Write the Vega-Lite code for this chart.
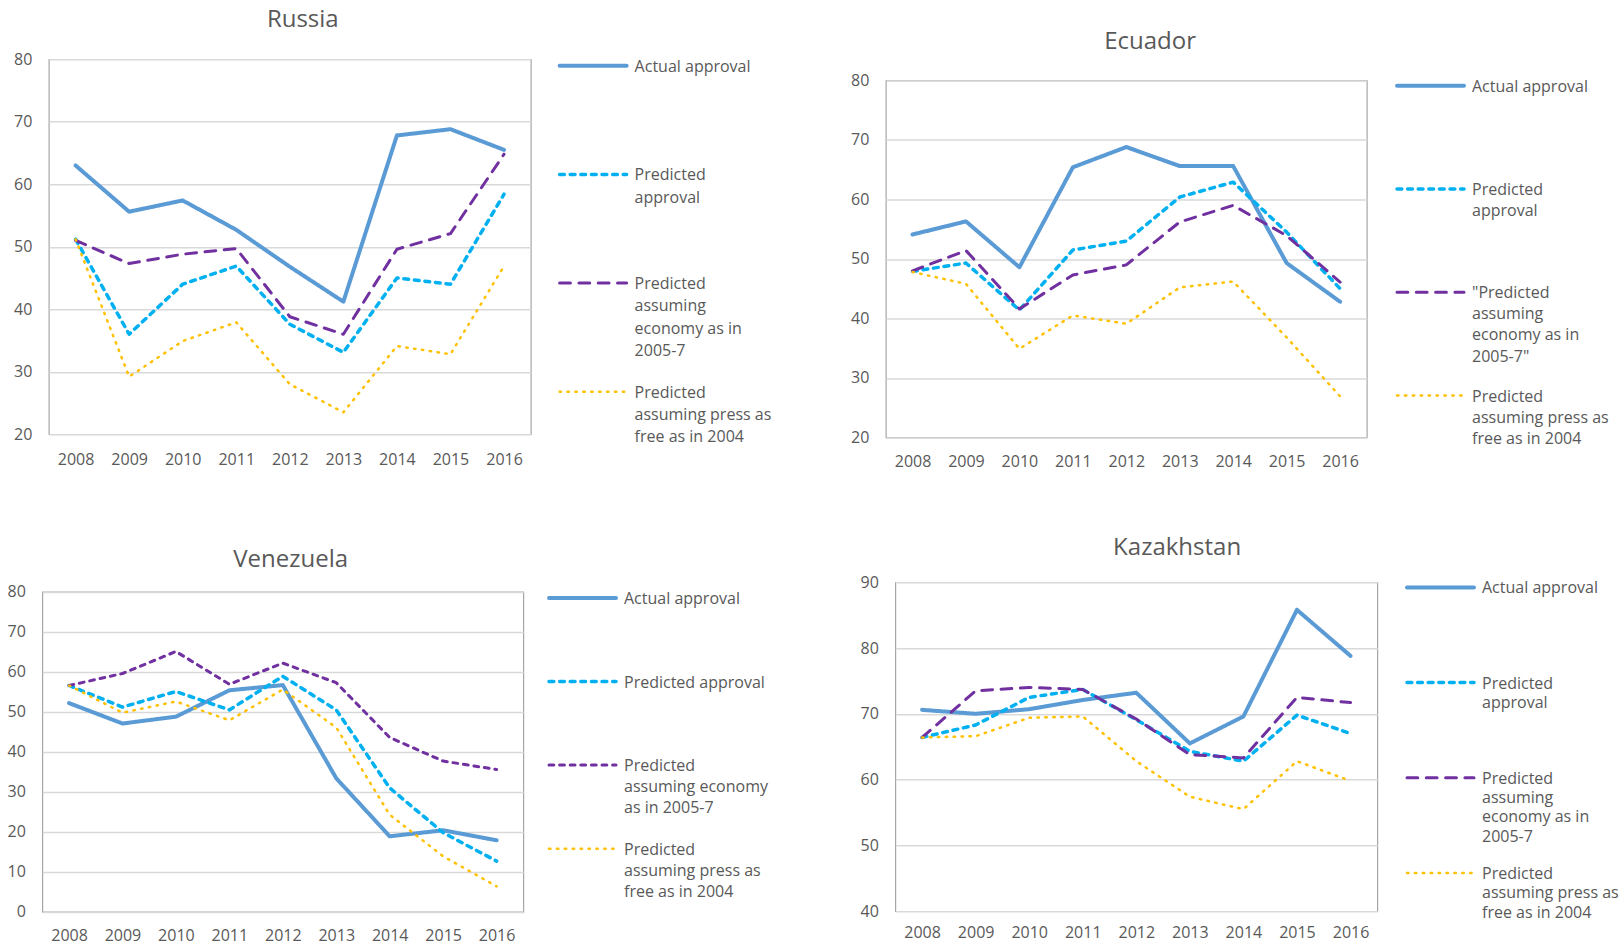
{
  "$schema": "https://vega.github.io/schema/vega-lite/v6.json",
  "padding": 0,
  "spacing": 0,
  "center": true,
  "resolve": {
    "scale": {"x": "independent", "y": "independent", "color": "independent", "strokeDash": "independent", "strokeWidth": "independent"},
    "legend": {"color": "independent", "strokeDash": "independent", "strokeWidth": "independent"}
  },
  "datasets": {
    "russia": [
      {"year": 2008, "series": "Actual approval", "value": 63.0},
      {"year": 2009, "series": "Actual approval", "value": 55.6},
      {"year": 2010, "series": "Actual approval", "value": 57.4},
      {"year": 2011, "series": "Actual approval", "value": 52.7},
      {"year": 2012, "series": "Actual approval", "value": 46.8},
      {"year": 2013, "series": "Actual approval", "value": 41.2},
      {"year": 2014, "series": "Actual approval", "value": 67.8},
      {"year": 2015, "series": "Actual approval", "value": 68.8},
      {"year": 2016, "series": "Actual approval", "value": 65.5},
      {"year": 2008, "series": "Predicted approval", "value": 51.2},
      {"year": 2009, "series": "Predicted approval", "value": 36.0},
      {"year": 2010, "series": "Predicted approval", "value": 44.0},
      {"year": 2011, "series": "Predicted approval", "value": 46.9},
      {"year": 2012, "series": "Predicted approval", "value": 37.6},
      {"year": 2013, "series": "Predicted approval", "value": 33.1},
      {"year": 2014, "series": "Predicted approval", "value": 45.0},
      {"year": 2015, "series": "Predicted approval", "value": 44.0},
      {"year": 2016, "series": "Predicted approval", "value": 58.4},
      {"year": 2008, "series": "Predicted assuming economy as in 2005-7", "value": 51.0},
      {"year": 2009, "series": "Predicted assuming economy as in 2005-7", "value": 47.3},
      {"year": 2010, "series": "Predicted assuming economy as in 2005-7", "value": 48.8},
      {"year": 2011, "series": "Predicted assuming economy as in 2005-7", "value": 49.7},
      {"year": 2012, "series": "Predicted assuming economy as in 2005-7", "value": 38.8},
      {"year": 2013, "series": "Predicted assuming economy as in 2005-7", "value": 36.0},
      {"year": 2014, "series": "Predicted assuming economy as in 2005-7", "value": 49.6},
      {"year": 2015, "series": "Predicted assuming economy as in 2005-7", "value": 52.1},
      {"year": 2016, "series": "Predicted assuming economy as in 2005-7", "value": 64.8},
      {"year": 2008, "series": "Predicted assuming press as free as in 2004", "value": 51.2},
      {"year": 2009, "series": "Predicted assuming press as free as in 2004", "value": 29.2},
      {"year": 2010, "series": "Predicted assuming press as free as in 2004", "value": 34.9},
      {"year": 2011, "series": "Predicted assuming press as free as in 2004", "value": 37.9},
      {"year": 2012, "series": "Predicted assuming press as free as in 2004", "value": 28.0},
      {"year": 2013, "series": "Predicted assuming press as free as in 2004", "value": 23.5},
      {"year": 2014, "series": "Predicted assuming press as free as in 2004", "value": 34.1},
      {"year": 2015, "series": "Predicted assuming press as free as in 2004", "value": 32.8},
      {"year": 2016, "series": "Predicted assuming press as free as in 2004", "value": 46.9}
    ],
    "ecuador": [
      {"year": 2008, "series": "Actual approval", "value": 54.1},
      {"year": 2009, "series": "Actual approval", "value": 56.3},
      {"year": 2010, "series": "Actual approval", "value": 48.6},
      {"year": 2011, "series": "Actual approval", "value": 65.4},
      {"year": 2012, "series": "Actual approval", "value": 68.8},
      {"year": 2013, "series": "Actual approval", "value": 65.6},
      {"year": 2014, "series": "Actual approval", "value": 65.6},
      {"year": 2015, "series": "Actual approval", "value": 49.3},
      {"year": 2016, "series": "Actual approval", "value": 42.8},
      {"year": 2008, "series": "Predicted approval", "value": 47.9},
      {"year": 2009, "series": "Predicted approval", "value": 49.3},
      {"year": 2010, "series": "Predicted approval", "value": 41.4},
      {"year": 2011, "series": "Predicted approval", "value": 51.5},
      {"year": 2012, "series": "Predicted approval", "value": 53.0},
      {"year": 2013, "series": "Predicted approval", "value": 60.4},
      {"year": 2014, "series": "Predicted approval", "value": 62.9},
      {"year": 2015, "series": "Predicted approval", "value": 54.5},
      {"year": 2016, "series": "Predicted approval", "value": 45.0},
      {"year": 2008, "series": "Predicted assuming economy as in 2005-7", "value": 48.0},
      {"year": 2009, "series": "Predicted assuming economy as in 2005-7", "value": 51.4},
      {"year": 2010, "series": "Predicted assuming economy as in 2005-7", "value": 41.6},
      {"year": 2011, "series": "Predicted assuming economy as in 2005-7", "value": 47.3},
      {"year": 2012, "series": "Predicted assuming economy as in 2005-7", "value": 49.0},
      {"year": 2013, "series": "Predicted assuming economy as in 2005-7", "value": 56.2},
      {"year": 2014, "series": "Predicted assuming economy as in 2005-7", "value": 59.0},
      {"year": 2015, "series": "Predicted assuming economy as in 2005-7", "value": 53.9},
      {"year": 2016, "series": "Predicted assuming economy as in 2005-7", "value": 46.1},
      {"year": 2008, "series": "Predicted assuming press as free as in 2004", "value": 47.8},
      {"year": 2009, "series": "Predicted assuming press as free as in 2004", "value": 45.8},
      {"year": 2010, "series": "Predicted assuming press as free as in 2004", "value": 34.9},
      {"year": 2011, "series": "Predicted assuming press as free as in 2004", "value": 40.5},
      {"year": 2012, "series": "Predicted assuming press as free as in 2004", "value": 39.1},
      {"year": 2013, "series": "Predicted assuming press as free as in 2004", "value": 45.2},
      {"year": 2014, "series": "Predicted assuming press as free as in 2004", "value": 46.2},
      {"year": 2015, "series": "Predicted assuming press as free as in 2004", "value": 36.8},
      {"year": 2016, "series": "Predicted assuming press as free as in 2004", "value": 26.9}
    ],
    "venezuela": [
      {"year": 2008, "series": "Actual approval", "value": 52.2},
      {"year": 2009, "series": "Actual approval", "value": 47.1},
      {"year": 2010, "series": "Actual approval", "value": 48.8},
      {"year": 2011, "series": "Actual approval", "value": 55.4},
      {"year": 2012, "series": "Actual approval", "value": 56.7},
      {"year": 2013, "series": "Actual approval", "value": 33.4},
      {"year": 2014, "series": "Actual approval", "value": 18.9},
      {"year": 2015, "series": "Actual approval", "value": 20.4},
      {"year": 2016, "series": "Actual approval", "value": 17.9},
      {"year": 2008, "series": "Predicted approval", "value": 56.6},
      {"year": 2009, "series": "Predicted approval", "value": 51.2},
      {"year": 2010, "series": "Predicted approval", "value": 55.1},
      {"year": 2011, "series": "Predicted approval", "value": 50.5},
      {"year": 2012, "series": "Predicted approval", "value": 58.9},
      {"year": 2013, "series": "Predicted approval", "value": 50.5},
      {"year": 2014, "series": "Predicted approval", "value": 31.0},
      {"year": 2015, "series": "Predicted approval", "value": 19.8},
      {"year": 2016, "series": "Predicted approval", "value": 12.7},
      {"year": 2008, "series": "Predicted assuming economy as in 2005-7", "value": 56.6},
      {"year": 2009, "series": "Predicted assuming economy as in 2005-7", "value": 59.6},
      {"year": 2010, "series": "Predicted assuming economy as in 2005-7", "value": 65.1},
      {"year": 2011, "series": "Predicted assuming economy as in 2005-7", "value": 56.9},
      {"year": 2012, "series": "Predicted assuming economy as in 2005-7", "value": 62.2},
      {"year": 2013, "series": "Predicted assuming economy as in 2005-7", "value": 57.3},
      {"year": 2014, "series": "Predicted assuming economy as in 2005-7", "value": 43.6},
      {"year": 2015, "series": "Predicted assuming economy as in 2005-7", "value": 37.7},
      {"year": 2016, "series": "Predicted assuming economy as in 2005-7", "value": 35.6},
      {"year": 2008, "series": "Predicted assuming press as free as in 2004", "value": 56.6},
      {"year": 2009, "series": "Predicted assuming press as free as in 2004", "value": 49.8},
      {"year": 2010, "series": "Predicted assuming press as free as in 2004", "value": 52.6},
      {"year": 2011, "series": "Predicted assuming press as free as in 2004", "value": 47.9},
      {"year": 2012, "series": "Predicted assuming press as free as in 2004", "value": 55.6},
      {"year": 2013, "series": "Predicted assuming press as free as in 2004", "value": 46.1},
      {"year": 2014, "series": "Predicted assuming press as free as in 2004", "value": 24.3},
      {"year": 2015, "series": "Predicted assuming press as free as in 2004", "value": 13.9},
      {"year": 2016, "series": "Predicted assuming press as free as in 2004", "value": 6.4}
    ],
    "kazakhstan": [
      {"year": 2008, "series": "Actual approval", "value": 70.6},
      {"year": 2009, "series": "Actual approval", "value": 70.0},
      {"year": 2010, "series": "Actual approval", "value": 70.7},
      {"year": 2011, "series": "Actual approval", "value": 72.1},
      {"year": 2012, "series": "Actual approval", "value": 73.2},
      {"year": 2013, "series": "Actual approval", "value": 65.5},
      {"year": 2014, "series": "Actual approval", "value": 69.6},
      {"year": 2015, "series": "Actual approval", "value": 85.8},
      {"year": 2016, "series": "Actual approval", "value": 78.8},
      {"year": 2008, "series": "Predicted approval", "value": 66.4},
      {"year": 2009, "series": "Predicted approval", "value": 68.3},
      {"year": 2010, "series": "Predicted approval", "value": 72.5},
      {"year": 2011, "series": "Predicted approval", "value": 73.7},
      {"year": 2012, "series": "Predicted approval", "value": 69.1},
      {"year": 2013, "series": "Predicted approval", "value": 64.3},
      {"year": 2014, "series": "Predicted approval", "value": 62.8},
      {"year": 2015, "series": "Predicted approval", "value": 69.8},
      {"year": 2016, "series": "Predicted approval", "value": 67.0},
      {"year": 2008, "series": "Predicted assuming economy as in 2005-7", "value": 66.4},
      {"year": 2009, "series": "Predicted assuming economy as in 2005-7", "value": 73.5},
      {"year": 2010, "series": "Predicted assuming economy as in 2005-7", "value": 74.0},
      {"year": 2011, "series": "Predicted assuming economy as in 2005-7", "value": 73.7},
      {"year": 2012, "series": "Predicted assuming economy as in 2005-7", "value": 69.2},
      {"year": 2013, "series": "Predicted assuming economy as in 2005-7", "value": 63.8},
      {"year": 2014, "series": "Predicted assuming economy as in 2005-7", "value": 63.3},
      {"year": 2015, "series": "Predicted assuming economy as in 2005-7", "value": 72.5},
      {"year": 2016, "series": "Predicted assuming economy as in 2005-7", "value": 71.7},
      {"year": 2008, "series": "Predicted assuming press as free as in 2004", "value": 66.4},
      {"year": 2009, "series": "Predicted assuming press as free as in 2004", "value": 66.6},
      {"year": 2010, "series": "Predicted assuming press as free as in 2004", "value": 69.4},
      {"year": 2011, "series": "Predicted assuming press as free as in 2004", "value": 69.6},
      {"year": 2012, "series": "Predicted assuming press as free as in 2004", "value": 62.8},
      {"year": 2013, "series": "Predicted assuming press as free as in 2004", "value": 57.4},
      {"year": 2014, "series": "Predicted assuming press as free as in 2004", "value": 55.5},
      {"year": 2015, "series": "Predicted assuming press as free as in 2004", "value": 62.8},
      {"year": 2016, "series": "Predicted assuming press as free as in 2004", "value": 59.8}
    ]
  },
  "vconcat": [
    {
      "hconcat": [
        {
          "width": 482, "height": 375,
          "data": {"name": "russia"},
          "title": {"text": "Russia", "offset": -31, "dx": 13},
          "mark": {"type": "line", "strokeCap": "round", "strokeJoin": "round"},
          "encoding": {
            "x": {"field": "year", "type": "ordinal", "scale": {"type": "point", "padding": 0.5},
                  "axis": {"title": ".", "titleX": 757.5, "titleY": 59, "labelPadding": 17.5}},
            "y": {"field": "value", "type": "quantitative", "scale": {"domain": [20, 80], "nice": false, "zero": false},
                  "axis": {"values": [20, 30, 40, 50, 60, 70, 80], "title": ".", "titleX": 0, "titleY": -58.5}},
            "color": {"field": "series", "type": "nominal",
              "scale": {"domain": ["Actual approval", "Predicted approval", "Predicted assuming economy as in 2005-7", "Predicted assuming press as free as in 2004"], "range": ["#5b9bd5", "#00b0f0", "#7030a0", "#ffc000"]},
              "legend": {"title": null, "orient": "none", "legendX": 536.3, "legendY": -1.5, "rowPadding": 24.7,
                "labelExpr": "datum.label == 'Actual approval' ? 'Actual approval' : datum.label == 'Predicted approval' ? ['Predicted', 'approval'] : datum.label == 'Predicted assuming economy as in 2005-7' ? ['Predicted', 'assuming', 'economy as in', '2005-7'] : ['Predicted', 'assuming press as', 'free as in 2004']",
                "encode": {"labels": {"update": {"dy": {"value": -7}, "lineHeight": {"value": 22.3}}}, "symbols": {"update": {"strokeCap": {"value": "round"}}}}}},
            "strokeDash": {"field": "series", "type": "nominal",
              "scale": {"domain": ["Actual approval", "Predicted approval", "Predicted assuming economy as in 2005-7", "Predicted assuming press as free as in 2004"], "range": [[1, 0], [4.8, 5.8], [10.8, 8.5], [1.4, 6.5]]}},
            "strokeWidth": {"field": "series", "type": "nominal",
              "scale": {"domain": ["Actual approval", "Predicted approval", "Predicted assuming economy as in 2005-7", "Predicted assuming press as free as in 2004"], "range": [4, 2.5, 2.5, 4.5]}}
          }
        },
        {
          "width": 481, "height": 357,
          "data": {"name": "ecuador"},
          "title": {"text": "Ecuador", "offset": -33.7, "dx": 23.8},
          "mark": {"type": "line", "strokeCap": "round", "strokeJoin": "round"},
          "encoding": {
            "x": {"field": "year", "type": "ordinal", "scale": {"type": "point", "padding": 0.5},
                  "axis": {"title": ".", "titleX": 727.5, "titleY": 34.6, "labelPadding": 16}},
            "y": {"field": "value", "type": "quantitative", "scale": {"domain": [20, 80], "nice": false, "zero": false},
                  "axis": {"values": [20, 30, 40, 50, 60, 70, 80], "title": ".", "titleX": -77, "titleY": -60}},
            "color": {"field": "series", "type": "nominal",
              "scale": {"domain": ["Actual approval", "Predicted approval", "Predicted assuming economy as in 2005-7", "Predicted assuming press as free as in 2004"], "range": ["#5b9bd5", "#00b0f0", "#7030a0", "#ffc000"]},
              "legend": {"title": null, "orient": "none", "legendX": 536.7, "legendY": -2.7, "rowPadding": 22.3,
                "labelExpr": "datum.label == 'Actual approval' ? 'Actual approval' : datum.label == 'Predicted approval' ? ['Predicted', 'approval'] : datum.label == 'Predicted assuming economy as in 2005-7' ? ['\"Predicted', 'assuming', 'economy as in', '2005-7\"'] : ['Predicted', 'assuming press as', 'free as in 2004']",
                "encode": {"labels": {"update": {"dy": {"value": -7}, "lineHeight": {"value": 21.1}}}, "symbols": {"update": {"strokeCap": {"value": "round"}}}}}},
            "strokeDash": {"field": "series", "type": "nominal",
              "scale": {"domain": ["Actual approval", "Predicted approval", "Predicted assuming economy as in 2005-7", "Predicted assuming press as free as in 2004"], "range": [[1, 0], [4.8, 5.8], [10.8, 8.5], [1.4, 6.5]]}},
            "strokeWidth": {"field": "series", "type": "nominal",
              "scale": {"domain": ["Actual approval", "Predicted approval", "Predicted assuming economy as in 2005-7", "Predicted assuming press as free as in 2004"], "range": [4, 2.5, 2.5, 4.5]}}
          }
        }
      ],
      "spacing": 0,
      "center": true,
      "resolve": {
        "scale": {"x": "independent", "y": "independent", "color": "independent", "strokeDash": "independent", "strokeWidth": "independent"},
        "legend": {"color": "independent", "strokeDash": "independent", "strokeWidth": "independent"}
      }
    },
    {
      "hconcat": [
        {
          "width": 481, "height": 320,
          "data": {"name": "venezuela"},
          "title": {"text": "Venezuela", "offset": -75.8, "dx": 7.8},
          "mark": {"type": "line", "strokeCap": "round", "strokeJoin": "round"},
          "encoding": {
            "x": {"field": "year", "type": "ordinal", "scale": {"type": "point", "padding": 0.5},
                  "axis": {"title": ".", "titleX": 777.5, "titleY": 33.6, "labelPadding": 16}},
            "y": {"field": "value", "type": "quantitative", "scale": {"domain": [0, 80], "nice": false},
                  "axis": {"values": [0, 10, 20, 30, 40, 50, 60, 70, 80], "title": ".", "titleX": -41.3, "titleY": -96}},
            "color": {"field": "series", "type": "nominal",
              "scale": {"domain": ["Actual approval", "Predicted approval", "Predicted assuming economy as in 2005-7", "Predicted assuming press as free as in 2004"], "range": ["#5b9bd5", "#00b0f0", "#7030a0", "#ffc000"]},
              "legend": {"title": null, "orient": "none", "legendX": 532.2, "legendY": -2, "rowPadding": 23.6,
                "labelExpr": "datum.label == 'Actual approval' ? 'Actual approval' : datum.label == 'Predicted approval' ? 'Predicted approval' : datum.label == 'Predicted assuming economy as in 2005-7' ? ['Predicted', 'assuming economy', 'as in 2005-7'] : ['Predicted', 'assuming press as', 'free as in 2004']",
                "encode": {"labels": {"update": {"dy": {"value": -7}, "lineHeight": {"value": 21.2}}}, "symbols": {"update": {"strokeCap": {"value": "round"}}}}}},
            "strokeDash": {"field": "series", "type": "nominal",
              "scale": {"domain": ["Actual approval", "Predicted approval", "Predicted assuming economy as in 2005-7", "Predicted assuming press as free as in 2004"], "range": [[1, 0], [4.8, 5.8], [4.8, 5.8], [1.4, 6.5]]}},
            "strokeWidth": {"field": "series", "type": "nominal",
              "scale": {"domain": ["Actual approval", "Predicted approval", "Predicted assuming economy as in 2005-7", "Predicted assuming press as free as in 2004"], "range": [4, 2.5, 2.5, 4.5]}}
          }
        },
        {
          "width": 482, "height": 329,
          "data": {"name": "kazakhstan"},
          "title": {"text": "Kazakhstan", "offset": -37.8, "dx": 40.8},
          "mark": {"type": "line", "strokeCap": "round", "strokeJoin": "round"},
          "encoding": {
            "x": {"field": "year", "type": "ordinal", "scale": {"type": "point", "padding": 0.5},
                  "axis": {"title": ".", "titleX": 724.5, "titleY": 44, "labelPadding": 13.4}},
            "y": {"field": "value", "type": "quantitative", "scale": {"domain": [40, 90], "nice": false, "zero": false},
                  "axis": {"values": [40, 50, 60, 70, 80, 90], "title": ".", "titleX": -73, "titleY": -60}},
            "color": {"field": "series", "type": "nominal",
              "scale": {"domain": ["Actual approval", "Predicted approval", "Predicted assuming economy as in 2005-7", "Predicted assuming press as free as in 2004"], "range": ["#5b9bd5", "#00b0f0", "#7030a0", "#ffc000"]},
              "legend": {"title": null, "orient": "none", "legendX": 537.2, "legendY": -2.8, "rowPadding": 20.2,
                "labelExpr": "datum.label == 'Actual approval' ? 'Actual approval' : datum.label == 'Predicted approval' ? ['Predicted', 'approval'] : datum.label == 'Predicted assuming economy as in 2005-7' ? ['Predicted', 'assuming', 'economy as in', '2005-7'] : ['Predicted', 'assuming press as', 'free as in 2004']",
                "encode": {"labels": {"update": {"dy": {"value": -7}, "lineHeight": {"value": 19.3}}}, "symbols": {"update": {"strokeCap": {"value": "round"}}}}}},
            "strokeDash": {"field": "series", "type": "nominal",
              "scale": {"domain": ["Actual approval", "Predicted approval", "Predicted assuming economy as in 2005-7", "Predicted assuming press as free as in 2004"], "range": [[1, 0], [4.8, 5.8], [10.8, 8.5], [1.4, 6.5]]}},
            "strokeWidth": {"field": "series", "type": "nominal",
              "scale": {"domain": ["Actual approval", "Predicted approval", "Predicted assuming economy as in 2005-7", "Predicted assuming press as free as in 2004"], "range": [4, 2.5, 2.5, 4.5]}}
          }
        }
      ],
      "spacing": 0,
      "center": true,
      "resolve": {
        "scale": {"x": "independent", "y": "independent", "color": "independent", "strokeDash": "independent", "strokeWidth": "independent"},
        "legend": {"color": "independent", "strokeDash": "independent", "strokeWidth": "independent"}
      }
    }
  ],
  "config": {
    "font": "Open Sans",
    "background": "white",
    "view": {"stroke": "#a6a6a6", "strokeWidth": 1.2},
    "axis": {"labelFont": "Open Sans", "labelFontSize": 16, "labelColor": "#595959", "domain": false, "ticks": false, "tickSize": 0,
             "titleOpacity": 0, "titleFontSize": 1, "titleAngle": 0, "titleAlign": "left", "titleBaseline": "top", "titlePadding": 0},
    "axisX": {"grid": false, "labelAngle": 0},
    "axisY": {"grid": true, "gridColor": "#d9d9d9", "gridWidth": 1.5, "labelPadding": 17},
    "title": {"font": "Open Sans", "fontSize": 24, "fontWeight": "normal", "color": "#595959", "frame": "group", "anchor": "middle", "baseline": "alphabetic"},
    "legend": {"symbolType": "M-6.7,0L6.7,0", "symbolSize": 100, "labelOffset": 33.5, "labelFont": "Open Sans", "labelFontSize": 16, "labelColor": "#595959",
               "labelLimit": 300, "labelBaseline": "top", "gridAlign": "all", "padding": 0}
  }
}
